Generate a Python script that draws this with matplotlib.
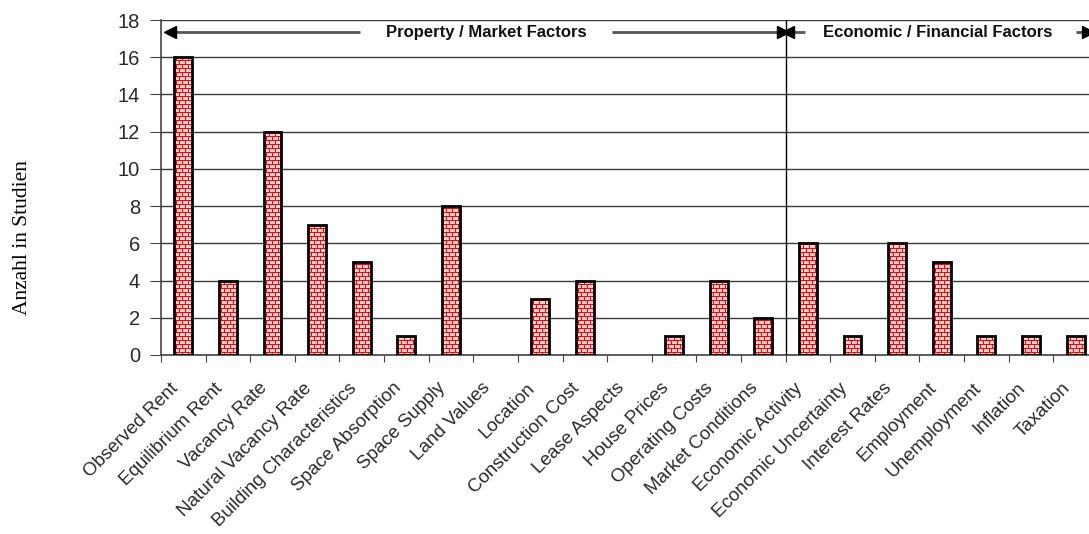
import numpy as np
import matplotlib
matplotlib.use("Agg")
import matplotlib.pyplot as plt
from matplotlib.path import Path
from matplotlib.patches import PathPatch

factors = ["Observed Rent", "Equilibrium Rent", "Vacancy Rate", "Natural Vacancy Rate",
           "Building Characteristics", "Space Absorption", "Space Supply", "Land Values",
           "Location", "Construction Cost", "Lease Aspects", "House Prices",
           "Operating Costs", "Market Conditions", "Economic Activity",
           "Economic Uncertainty", "Interest Rates", "Employment", "Unemployment",
           "Inflation", "Taxation"]
counts = [16, 4, 12, 7, 5, 1, 8, 0, 3, 4, 0, 1, 4, 2, 6, 1, 6, 5, 1, 1, 1]

groups = ["Property / Market Factors", "Economic / Financial Factors"]
group_sizes = [14, 7]


def brick_texture(w_px, h_px):
    # red mortar lines on pale bricks, rows staggered by half a brick
    img = np.ones((h_px, w_px, 3))
    img[:] = (1.0, 0.82, 0.82)
    red = (1.0, 0.0, 0.0)
    r = np.arange(h_px)[:, None]
    c = np.arange(w_px)[None, :]
    off = np.where((r // 4) % 2 == 0, 0, 3)
    mortar = (r % 4 == 0) | ((c + off) % 6 == 0)
    img[mortar] = red
    return img


W, H = 1089, 534
fig = plt.figure(figsize=(W / 100, H / 100), dpi=100)
ax_l, ax_b, ax_w, ax_h = 161, 179, 928, 335
ax = fig.add_axes([ax_l / W, ax_b / H, ax_w / W, ax_h / H])

x = np.arange(len(factors))
width = 0.4
lws = [2 if v > 0 else 0 for v in counts]
bars = ax.bar(x, counts, width, facecolor="none", edgecolor="black", linewidth=lws, zorder=3)

xlim = (-0.5, 20.3)
ylim = (0, 18)

# one pixel-aligned brick image over the whole plot area, clipped to the bars
clip = Path.make_compound_path(*[b.get_path().transformed(b.get_patch_transform())
                                 for b, v in zip(bars, counts) if v > 0])
clip_patch = PathPatch(clip, transform=ax.transData, facecolor="none", edgecolor="none")
im = ax.imshow(brick_texture(ax_w, ax_h), extent=(*xlim, *ylim), aspect="auto",
               interpolation="nearest", zorder=2)
im.set_clip_path(clip_patch)

ax.set_xlim(*xlim)
ax.set_ylim(*ylim)

ax.set_yticks(np.arange(0, 19, 2))
ax.yaxis.grid(True, color="#3a3a3a", linewidth=1)
ax.set_axisbelow(True)
for s in ["top", "right"]:
    ax.spines[s].set_visible(False)
for s in ["left", "bottom"]:
    ax.spines[s].set_color("#444444")
    ax.spines[s].set_linewidth(1.2)

# boundary ticks between categories; names hang slightly left of each bar
ax.set_xticks(np.arange(-0.5, 20.5, 1))
ax.set_xticklabels([])
ax.set_xticks(x - 0.18, minor=True)
ax.set_xticklabels(factors, minor=True, rotation=45, ha="right", va="center",
                   rotation_mode="anchor", fontsize=13.5, color="#2a2a2a",
                   family="Liberation Sans")
ax.tick_params(axis="x", which="minor", length=0, pad=22)
ax.tick_params(axis="x", which="major", length=5, color="#444444")
ax.tick_params(axis="y", length=8, pad=7, color="#444444", labelsize=14.5,
               labelcolor="#2a2a2a")
for t in ax.get_yticklabels():
    t.set_family("Liberation Sans")

ax.set_ylabel("Anzahl in Studien", family="Liberation Serif", fontsize=15.5)
ax.yaxis.set_label_coords(-0.139, 0.352)

# group divider and header arrows
edges = np.cumsum([0] + group_sizes) - 0.5
ax.axvline(edges[1], color="black", linewidth=1, zorder=4)

arrow_y = 17.35
label_x = [6.8, 16.9]
heads = [(-0.3, 13.45), (13.55, 20.28)]
tails = [(3.96, 9.61), (13.94, 20.0)]
for name, lx, (h0, h1), (t0, t1) in zip(groups, label_x, heads, tails):
    ax.text(lx, arrow_y, name, ha="center", va="center", fontsize=12,
            fontweight="bold", family="Liberation Sans", color="#111111", zorder=5)
    ax.plot([h0, t0], [arrow_y, arrow_y], color="#555555", linewidth=2, zorder=4,
            solid_capstyle="butt")
    ax.plot([t1, h1], [arrow_y, arrow_y], color="#555555", linewidth=2, zorder=4,
            solid_capstyle="butt")
    ax.plot([h0], [arrow_y], marker="<", color="black", markersize=9, zorder=5)
    ax.plot([h1], [arrow_y], marker=">", color="black", markersize=9, zorder=5)

fig.savefig("out.png", dpi=100)
